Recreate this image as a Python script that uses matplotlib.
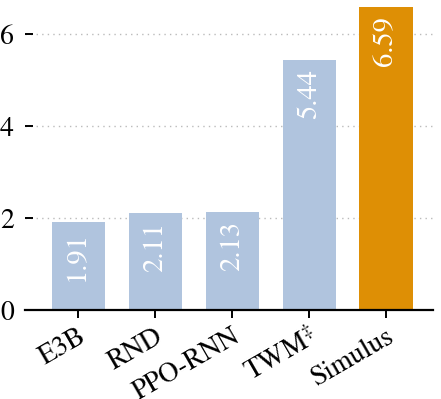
import matplotlib.pyplot as plt
import numpy as np

methods = ['E3B', 'RND', 'PPO-RNN', 'TWM$^{\\ddagger}$', 'Simulus']
scores = [1.91, 2.11, 2.13, 5.44, 6.59]
colors = ['#B0C4DE', '#B0C4DE', '#B0C4DE', '#B0C4DE', '#DE8F05']

plt.rcParams['font.family'] = ['STIXGeneral', 'DejaVu Serif']
plt.rcParams['mathtext.fontset'] = 'stix'
plt.rcParams['font.size'] = 20

fig = plt.figure(figsize=(4.41, 3.99), dpi=100)
ax = fig.add_axes([25/441, 89/399, 408/441, 303/399])

x = np.arange(len(methods))
ax.bar(x, scores, width=0.69, color=colors, zorder=2)
for i, v in enumerate(scores):
    ax.annotate(f'{v:.2f}', (i, v), xytext=(0, -9), textcoords='offset pixels',
                rotation=90, ha='center', va='top', color='white', fontsize=20.5)

ax.set_xlim(-0.69, 4.61)
ax.set_ylim(0, 6.59)
ax.set_yticks([0, 2, 4, 6])
ax.set_xticks(x)
ax.set_xticklabels(methods, rotation=30, ha='right', rotation_mode='anchor')
ax.yaxis.grid(True, linestyle=(0, (1, 3)), color='#bbbbbb', linewidth=1, zorder=0)

for s in ['top', 'right', 'left']:
    ax.spines[s].set_visible(False)
ax.spines['bottom'].set_linewidth(1.6)
ax.tick_params(axis='x', length=6, width=1.4, pad=4)
ax.tick_params(axis='y', direction='in', length=6, width=1.4, pad=8)

fig.savefig('out.png', dpi=100)
